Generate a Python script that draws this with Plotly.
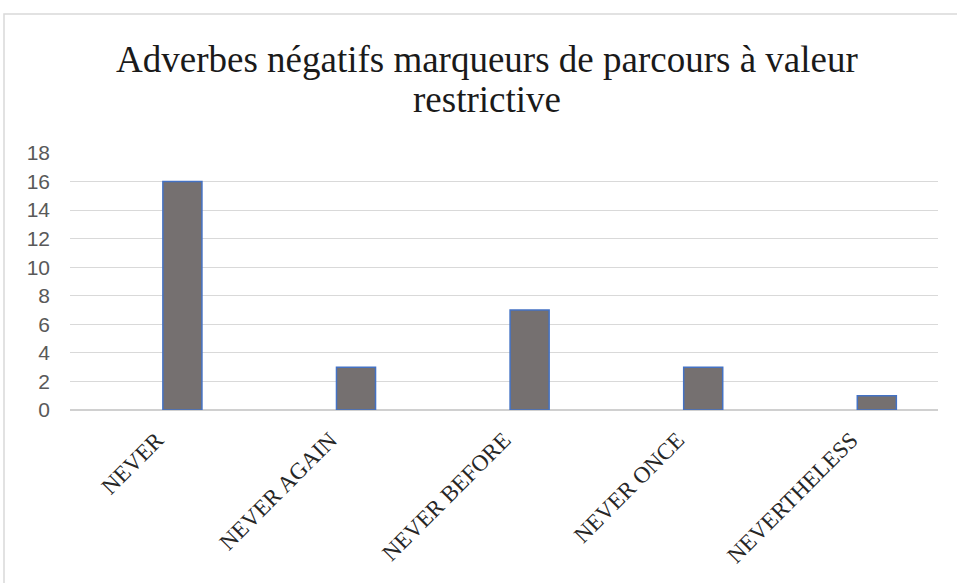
import plotly.graph_objects as go

categories = ["NEVER", "NEVER AGAIN", "NEVER BEFORE", "NEVER ONCE", "NEVERTHELESS"]
values = [16, 3, 7, 3, 1]
y_ticks = [0, 2, 4, 6, 8, 10, 12, 14, 16, 18]
title_lines = ["Adverbes négatifs marqueurs de parcours à valeur", "restrictive"]

fig = go.Figure()
fig.add_trace(go.Bar(
    x=categories, y=values,
    width=0.225, offset=0.035,
    marker=dict(color="#757070", line=dict(color="#4472C4", width=1.5)),
    showlegend=False,
))

W, H = 957, 583
L, R, T, B = 70, 19, 153, 173
pw, ph = W - L - R, H - T - B

def px_x(p):
    return (p - L) / pw

def px_y(p):
    return (H - B - p) / ph

fig.add_shape(type="rect", xref="paper", yref="paper",
              x0=px_x(4), x1=px_x(990), y0=px_y(14), y1=px_y(640),
              line=dict(color="#d9d9d9", width=1.5), fillcolor="rgba(0,0,0,0)", layer="below")

for txt, yc in zip(title_lines, [60, 99]):
    fig.add_annotation(
        text=txt, xref="paper", yref="paper", x=px_x(487), y=px_y(yc),
        showarrow=False, xanchor="center", yanchor="middle",
        font=dict(family="Liberation Serif", size=37, color="#1a1a1a"),
    )

fig.update_layout(
    width=W, height=H,
    margin=dict(l=L, r=R, t=T, b=B),
    paper_bgcolor="white", plot_bgcolor="white",
    bargap=0.2,
)
fig.update_xaxes(
    tickangle=-45, showgrid=False, showline=False, ticks="",
    tickfont=dict(family="Liberation Serif", size=23, color="#262626"),
    ticklabelstandoff=11,
)
fig.update_yaxes(
    range=[0, 18], tickvals=y_ticks, showgrid=True, gridcolor="#d9d9d9", gridwidth=1,
    zeroline=True, zerolinecolor="#d0d0d0", zerolinewidth=1.5,
    tickfont=dict(family="Liberation Sans", size=21, color="#595959"),
    ticks="", ticklen=0, ticklabelstandoff=19,
)

fig.write_html("out.html", config={"displayModeBar": False},
               post_script="document.body.style.margin='0px';")
